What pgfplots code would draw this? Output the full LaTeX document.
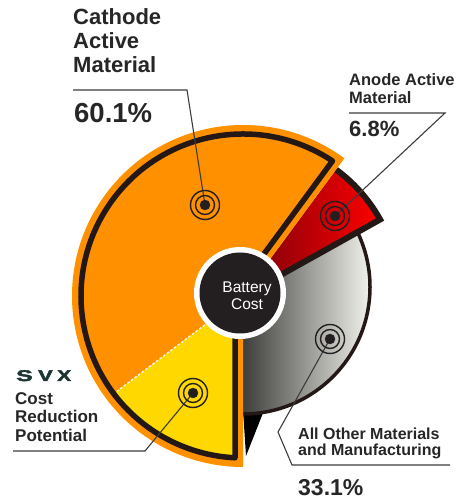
\documentclass[border=0pt]{standalone}
\usepackage{pgfplots}
\pgfplotsset{compat=1.18}
\usepackage{graphicx}
\usepackage{fontspec}
\setmainfont{Liberation Sans}
\newfontfamily\svxfont{Liberation Sans Bold}[FakeBold=2.5]
\definecolor{orng}{RGB}{255,144,0}
\definecolor{yel}{RGB}{255,216,0}
\definecolor{linec}{RGB}{35,24,21}
\definecolor{rdark}{RGB}{120,0,12}
\definecolor{rbright}{RGB}{255,0,0}
\definecolor{gdark}{RGB}{62,62,60}
\definecolor{gmid}{RGB}{190,190,186}
\definecolor{glight}{RGB}{242,242,236}
\definecolor{cdark}{RGB}{35,31,32}
\definecolor{txt}{RGB}{38,38,38}
\definecolor{leader}{RGB}{60,60,60}
\definecolor{svx}{RGB}{28,52,50}
\begin{document}
\begin{tikzpicture}
% shares of battery cost (percent)
\def\pCath{60.1}
\def\pAnode{6.8}
\def\pOther{33.1}
\def\pRed{14.7}% cost reduction potential part of the cathode slice (estimated)
\pgfmathsetmacro\aCath{270-3.6*\pCath}
\pgfmathsetmacro\aAnode{\aCath-3.6*\pAnode}
\pgfmathsetmacro\aRed{270-3.6*\pRed}
\begin{axis}[x=1pt,y=1pt,xmin=0,xmax=470,ymin=0,ymax=500,hide axis,clip=false]
% shadow under grey slice
\fill[black] (axis cs:243,90) -- (axis cs:246,44) -- (axis cs:263,87) -- cycle;
% grey slice
\shade[left color=gdark, middle color=gmid, right color=glight]
  (axis cs:243,204) -- (axis cs:243,86) arc[start angle=-90,end angle=\aAnode,radius=127pt] -- cycle;
\draw[linec, line width=3.5pt] (axis cs:243,86) arc[start angle=-90,end angle=\aAnode,radius=127pt];
% red slice
\shade[left color=rdark,right color=rbright]
  (axis cs:243,204) -- ++(\aAnode:157pt) arc[start angle=\aAnode,end angle=\aCath,radius=157pt] -- cycle;
\draw[linec,line width=6pt,line join=miter]
  (axis cs:243,204) -- ++(\aAnode:157pt) arc[start angle=\aAnode,end angle=\aCath,radius=157pt];
% orange slice
\fill[orng] (axis cs:243,204) -- ++(\aCath:171pt) arc[start angle=\aCath,end angle=270,radius=171pt] -- cycle;
% yellow part
\fill[yel] (axis cs:243,204) -- ++(\aRed:162pt) arc[start angle=\aRed,end angle=267.17,radius=162pt] -- ++(90:140pt) -- cycle;
% inset black outline
\draw[linec, line width=5.5pt, line join=round]
  (axis cs:243,204) ++(\aCath+90:8pt) ++(\aCath:25pt) -- ++(\aCath:136.8pt)
  arc[start angle=\aCath+2.83, end angle=267.17, radius=162pt] -- ++(90:136.8pt) -- cycle;
% dashed separator
\draw[white, line width=1.3pt, dash pattern=on 2.5pt off 2pt]
  (axis cs:243,204) ++(\aRed:48pt) -- ++(\aRed:110pt);
% centre
\fill[white] (axis cs:240,207) circle[radius=46pt];
\fill[cdark] (axis cs:240,207) circle[radius=40.5pt];
\node[anchor=base, text=white, font=\fontsize{15.5}{17}\selectfont, inner sep=0pt] at (axis cs:247,207) {Battery};
\node[anchor=base, text=white, font=\fontsize{15.5}{17}\selectfont, inner sep=0pt] at (axis cs:247,190) {Cost};
% leaders
\draw[leader, line width=1.1pt] (axis cs:205,295) -- (axis cs:187,410) -- (axis cs:73,410);
\draw[leader, line width=1.1pt] (axis cs:335,284) -- (axis cs:445,387) -- (axis cs:349,387);
\draw[leader, line width=1.1pt] (axis cs:330,161) -- (axis cs:278,68) -- (axis cs:292,35) -- (axis cs:450,35);
\draw[leader, line width=1.1pt] (axis cs:193,107) -- (axis cs:145,49) -- (axis cs:13,49);
% target markers
\addplot[only marks, mark=*, mark size=5pt, color=cdark] coordinates {(205,295) (335,284) (330,161) (193,107)};
\addplot[only marks, mark=o, mark size=9.5pt, color=cdark, mark options={line width=1.4pt}] coordinates {(205,295) (335,284) (330,161) (193,107)};
\addplot[only marks, mark=o, mark size=14.5pt, color=cdark, mark options={line width=1.4pt}] coordinates {(205,295) (335,284) (330,161) (193,107)};
% labels
\tikzset{lab/.style={anchor=base west, inner sep=0pt, text=txt}}
\node[lab, font=\bfseries\fontsize{22}{24}\selectfont] at (axis cs:73,475) {Cathode};
\node[lab, font=\bfseries\fontsize{22}{24}\selectfont] at (axis cs:73,451) {Active};
\node[lab, font=\bfseries\fontsize{22}{24}\selectfont] at (axis cs:73,427) {Material};
\node[lab, font=\bfseries\fontsize{27.5}{30}\selectfont] at (axis cs:74,377) {60.1\%};
\node[lab, font=\bfseries\fontsize{16.5}{18}\selectfont] at (axis cs:349,414) {Anode Active};
\node[lab, font=\bfseries\fontsize{16.5}{18}\selectfont] at (axis cs:349,396) {Material};
\node[lab, font=\bfseries\fontsize{22}{24}\selectfont] at (axis cs:349,363) {6.8\%};
\tikzset{svxl/.style={anchor=base west, inner sep=0pt, text=svx, font=\svxfont\fontsize{15.5}{18}\selectfont}}
\node[svxl] at (axis cs:16,119) {\scalebox{1.6}[1]{S}};
\node[svxl] at (axis cs:38,119) {\scalebox{1.4}[1]{V}};
\node[svxl] at (axis cs:57,119) {\scalebox{1.35}[1]{X}};
\node[lab, font=\bfseries\fontsize{17}{18}\selectfont] at (axis cs:15,95) {Cost};
\node[lab, font=\bfseries\fontsize{17}{18}\selectfont] at (axis cs:15,77) {Reduction};
\node[lab, font=\bfseries\fontsize{17}{18}\selectfont] at (axis cs:15,58) {Potential};
\node[lab, font=\bfseries\fontsize{16}{17}\selectfont] at (axis cs:298,60) {All Other Materials};
\node[lab, font=\bfseries\fontsize{16}{17}\selectfont] at (axis cs:298,44) {and Manufacturing};
\node[lab, font=\bfseries\fontsize{23}{25}\selectfont] at (axis cs:298,5) {33.1\%};
\end{axis}
\pgfresetboundingbox
\path (current axis.south west) rectangle (current axis.north east);
\end{tikzpicture}
\end{document}
